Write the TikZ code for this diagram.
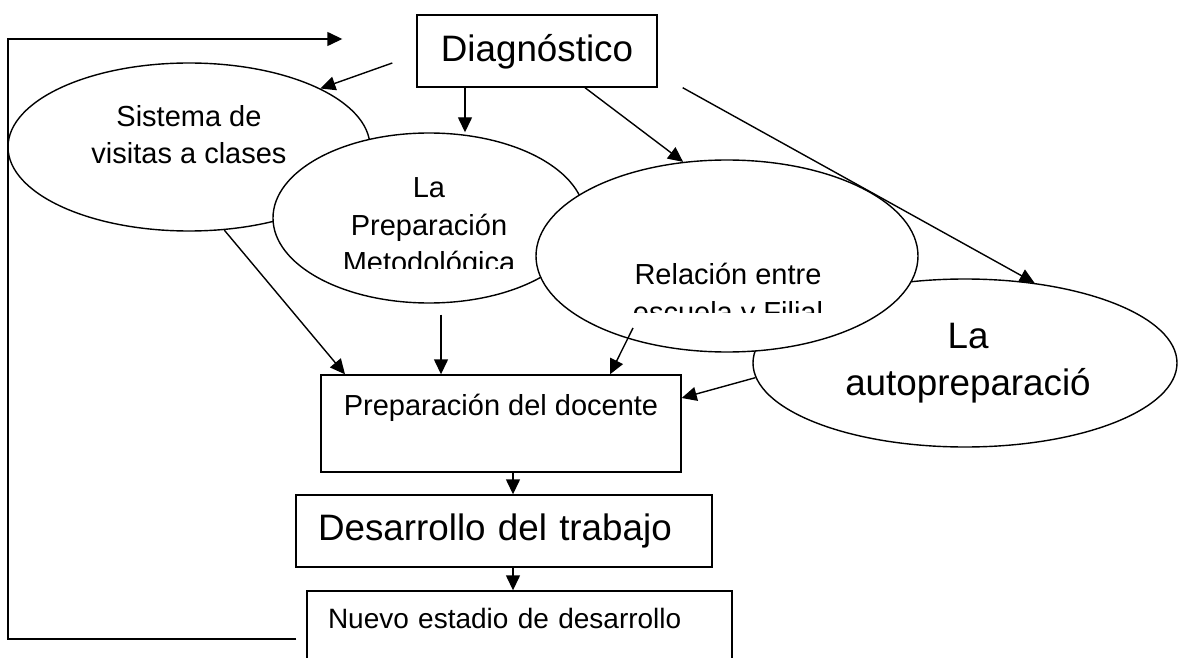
\documentclass[tikz,border=0pt]{standalone}
\usepackage{fontspec}
\setmainfont{Liberation Sans}
\usetikzlibrary{shapes.geometric,arrows.meta}

\begin{document}
\begin{tikzpicture}[x=0.5pt, y=-0.5pt, line width=0.7pt,
    arr/.style={-{Triangle[length=7.5pt, width=7pt]}},
    caja/.style={draw, inner sep=0pt},
    elipse/.style={draw, ellipse, fill=white, inner sep=0pt},
    grande/.style={font=\fontsize{18.4}{22}\selectfont},
    texto/.style={font=\fontsize{14.5}{18.5}\selectfont},
    lin/.style={texto, anchor=base, inner sep=0pt}]
    \useasboundingbox (0,0) rectangle (1179,658);

    \node[elipse, minimum width=181pt, minimum height=84pt] (si) at (189,147) {};
    \node[lin] at (189,127) {Sistema de};
    \node[lin] at (189,163) {visitas a clases};

    \node[elipse, minimum width=156pt, minimum height=85pt] (pm) at (429,218) {};
    \node[lin] at (429,198) {La};
    \node[lin] at (429,235) {Preparación};
    \begin{scope}
        \clip (300,240) rectangle (560,268);
        \node[lin] at (429,272) {Metodológica};
    \end{scope}

    \node[elipse, minimum width=212pt, minimum height=84pt] (ap) at (965,363) {};
    \node[lin, grande] at (968,348) {La};
    \node[lin, grande] at (968,395) {autopreparació};

    \node[elipse, minimum width=191pt, minimum height=96pt] (re) at (727,256) {};
    \node[lin] at (728,285) {Relación entre};
    \begin{scope}
        \clip (600,290) rectangle (860,312);
        \node[lin] at (728,322) {escuela y Filial};
    \end{scope}

    \node[caja, grande, minimum width=120pt, minimum height=36pt, text height=14pt, text depth=3pt] (dg) at (537,51) {Diagnóstico};
    \node[caja, texto, minimum width=180pt, minimum height=48.5pt, text height=4pt, text depth=12.5pt] (pd) at (501,423.5) {Preparación del docente};
    \node[caja, grande, text width=186pt, align=left, inner xsep=11pt, minimum height=36pt, text height=13pt, text depth=4pt] (dt) at (504,531) {Desarrollo del trabajo};
    \node[caja, font=\fontsize{14}{17}\selectfont, text width=191.5pt, align=left, inner xsep=10.5pt, minimum height=48pt, text height=3pt, text depth=14pt] (ne) at (519.5,639) {Nuevo estadio de desarrollo};

    \draw[arr] ([xshift=-12pt, yshift=-6pt]dg.west) -- (si.24);
    \draw[arr] ([xshift=-36pt]dg.south) coordinate (d1) -- (d1 |- pm.north);
    \draw[arr] ([xshift=24pt]dg.south) -- (re.115);
    \draw[arr] ([xshift=12.5pt]dg.south east) -- (ap.49);

    \draw[arr] (si.-67) -- ([xshift=-78pt]pd.north);
    \draw[arr] ([xshift=6pt, yshift=-5.5pt]pm.south) -- ([xshift=-30pt]pd.north);
    \draw[arr] ([xshift=-47pt, yshift=-36pt]re.center) -- ([xshift=54.5pt]pd.north);
    \draw[arr] (ap.184) -- ([yshift=12.75pt]pd.east);

    \draw[arr] ([xshift=6pt]pd.south) -- ([xshift=4.5pt]dt.north);
    \draw[arr] ([xshift=4.5pt]dt.south) -- ([xshift=-3.25pt]ne.north);

    \coordinate (xl) at (8,0);
    \coordinate (f1) at ([xshift=-5pt]ne.west);
    \coordinate (f2) at ([xshift=-37pt, yshift=6pt]dg.west);
    \draw[arr] (f1) -- (f1 -| xl) -- (f2 -| xl) -- (f2);
\end{tikzpicture}
\end{document}
